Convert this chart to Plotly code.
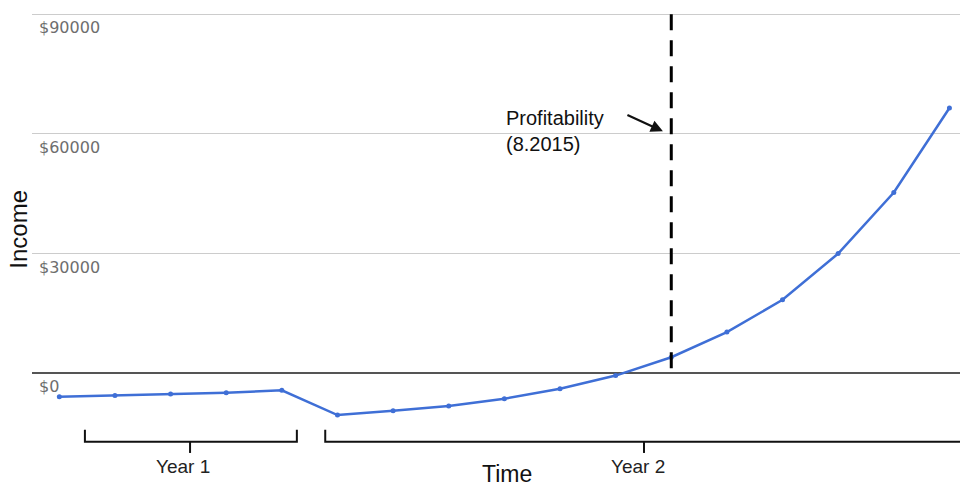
import plotly.graph_objects as go

# ---- data ----
months = [1, 2, 3, 4, 5, 6, 7, 8, 9, 10, 11, 12, 13, 14, 15, 16, 17]
income = [-5900, -5600, -5200, -4900, -4300, -10500, -9400, -8200, -6400,
          -3900, -600, 4000, 10300, 18400, 30000, 45300, 66500]
tick_values = [0, 30000, 60000, 90000]
tick_labels = ["$0", "$30000", "$60000", "$90000"]
profit_month = 12
profit_label = "Profitability<br>(8.2015)"
year_labels = ["Year 1", "Year 2"]
year_spans = [(1.46, 5.27), (5.78, 17.4)]
year_centers = [3.35, 11.51]

BLUE = "#3f6fd6"
fig = go.Figure()

fig.add_trace(go.Scatter(
    x=months, y=income, mode="lines+markers",
    line=dict(color=BLUE, width=2.5),
    marker=dict(color=BLUE, size=5),
    hoverinfo="skip", showlegend=False,
))

shapes = []
# profitability dashed line
shapes.append(dict(type="line", xref="x", yref="y",
                   x0=profit_month, x1=profit_month, y0=90000, y1=0,
                   line=dict(color="black", width=3, dash="16px,10px")))

# brackets below the axis
y_top, y_line, y_tip = -14200, -17200, -20000
for (a, b), c in zip(year_spans, year_centers):
    shapes.append(dict(type="path", xref="x", yref="y",
                       path=f"M {a},{y_top} L {a},{y_line} L {b},{y_line} L {b},{y_top}",
                       line=dict(color="#111", width=2)))
    shapes.append(dict(type="line", xref="x", yref="y",
                       x0=c, x1=c, y0=y_line, y1=y_tip,
                       line=dict(color="#111", width=2)))

annotations = []
# y tick labels inside plot, below gridlines
for v, t in zip(tick_values, tick_labels):
    annotations.append(dict(xref="paper", yref="y", x=0.0054, y=v,
                            xanchor="left", yanchor="top", yshift=-2,
                            text=t, showarrow=False,
                            font=dict(family="DejaVu Sans", size=16, color="#6e6e6e")))

# year labels
year_text_x = [3.22, 11.40]
for lab, xx in zip(year_labels, year_text_x):
    annotations.append(dict(xref="x", yref="y", x=xx, y=-23500,
                            xanchor="center", yanchor="middle",
                            text=lab, showarrow=False,
                            font=dict(family="Liberation Sans, Arial", size=19, color="#222")))

# axis titles
annotations.append(dict(xref="x", yref="y", x=9.05, y=-28790,
                        xanchor="center", yanchor="bottom", text="Time",
                        showarrow=False, borderpad=0,
                        font=dict(family="Liberation Sans, Arial", size=23, color="#111")))
annotations.append(dict(xref="paper", yref="y", x=-0.014, y=36000,
                        xanchor="center", yanchor="middle", text="Income",
                        textangle=-90, showarrow=False,
                        font=dict(family="Liberation Sans, Arial", size=24, color="#111")))

# profitability label and arrow
annotations.append(dict(xref="x", yref="y", x=8.99, y=67300,
                        xanchor="left", yanchor="top", align="left",
                        text=profit_label, showarrow=False,
                        font=dict(family="Liberation Sans, Arial", size=20, color="#111")))
annotations.append(dict(xref="x", yref="y", x=11.85, y=60650,
                        ax=-37, ay=-17, text="", showarrow=True,
                        arrowhead=2, arrowsize=1.1, arrowwidth=2.2,
                        arrowcolor="#111"))

fig.update_layout(
    width=960, height=488,
    margin=dict(l=32, r=0, t=12, b=0),
    paper_bgcolor="white", plot_bgcolor="white",
    shapes=shapes, annotations=annotations,
    xaxis=dict(range=[0.509, 17.19], showgrid=False, zeroline=False,
               showticklabels=False, showline=False, ticks=""),
    yaxis=dict(range=[-28790, 90580], tickvals=tick_values,
               showticklabels=False, showgrid=True, gridcolor="#cccccc",
               gridwidth=1, zeroline=True, zerolinecolor="#555555",
               zerolinewidth=1.5, showline=False, ticks=""),
)

fig.write_html("out.html")
